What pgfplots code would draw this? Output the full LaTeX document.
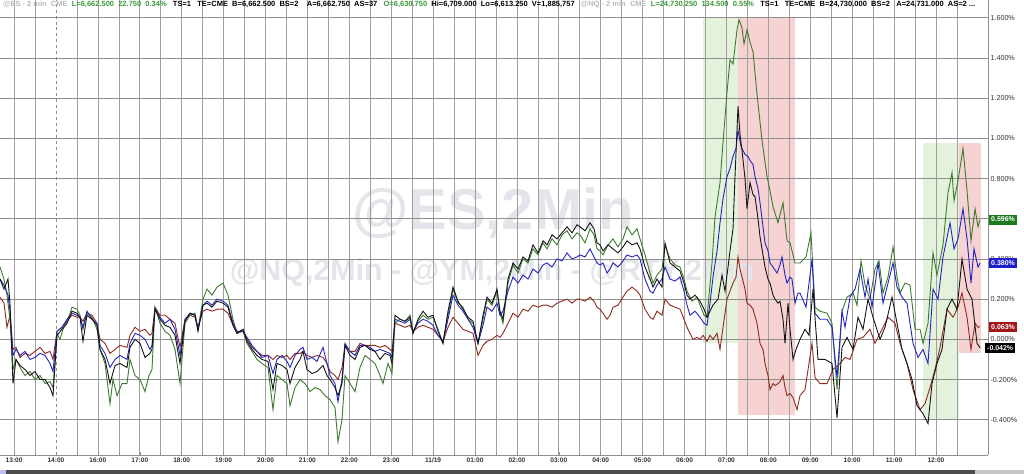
\documentclass[border=0pt]{standalone}
\usepackage{graphicx}
\usepackage{pgfplots}
\pgfplotsset{compat=1.18}
\usepackage{fontspec}
\setmainfont{Liberation Sans}
\definecolor{cES}{HTML}{141414}
\definecolor{cNQ}{HTML}{3C7A2E}
\definecolor{cYM}{HTML}{2323C0}
\definecolor{cRTY}{HTML}{8E2A1E}
\definecolor{shG}{HTML}{E4F2DC}
\definecolor{shR}{HTML}{F7D2D2}
\definecolor{gridc}{HTML}{8E8E8E}
\definecolor{wm}{HTML}{E4E5EA}
\definecolor{hdrgray}{HTML}{B6B8C0}
\definecolor{hdrgreen}{HTML}{3E9A3E}
\definecolor{tagG}{HTML}{1E7A1E}
\definecolor{tagB}{HTML}{1E1ECC}
\definecolor{tagR}{HTML}{A01818}
\definecolor{labc}{HTML}{333333}
\begin{document}
\begin{tikzpicture}[x=1bp,y=1bp]
\begin{axis}[at={(0,9.5)}, anchor=south west, scale only axis,
  width=988bp, height=455bp, set layers,
  xmin=0, xmax=988, ymin=-0.575, ymax=1.689,
  axis x line*=bottom, axis y line*=right,
  axis line style={gridc, line width=0.8bp},
  xtick={14.1,56,97.9,139.8,181.7,223.6,265.5,307.4,349.3,391.2,433.1,475,516.9,558.8,600.7,642.6,684.5,726.4,768.3,810.2,852.1,894,935.9},
  xticklabels={13:00,14:00,16:00,17:00,18:00,19:00,20:00,21:00,22:00,23:00,11/19,01:00,02:00,03:00,04:00,05:00,06:00,07:00,08:00,09:00,10:00,11:00,12:00},
  minor xtick={14.1,35.05,76.95,97.9,118.85,139.8,160.75,181.7,202.65,223.6,244.55,265.5,286.45,307.4,328.35,349.3,370.25,391.2,412.15,433.1,454.05,475,495.95,516.9,537.85,558.8,579.75,600.7,621.65,642.6,663.55,684.5,705.45,726.4,747.35,768.3,789.25,810.2,831.15,852.1,873.05,894,914.95,935.9,956.85},
  xminorgrids=true, xmajorgrids=false, ymajorgrids=true,
  extra x ticks={56}, extra x tick labels={},
  extra x tick style={grid=major, major grid style={gridc, dashed, line width=0.7bp}},
  ytick={-0.4,-0.2,0,0.2,0.4,0.6,0.8,1.0,1.2,1.4,1.6},
  yticklabels={-0.400\%,-0.200\%,0.000\%,0.200\%,0.400\%,0.600\%,0.800\%,1.000\%,1.200\%,1.400\%,1.600\%},
  major grid style={gridc, line width=0.7bp},
  minor grid style={gridc!85, line width=0.7bp},
  tick style={gridc, line width=0.6bp},
  major tick length=3bp, minor tick length=2bp,
  xticklabel style={font=\bfseries\fontsize{6.6}{7}\selectfont, text=labc, text height=5bp, text depth=1bp, yshift=1bp},
  yticklabel style={font=\fontsize{7.2}{8}\selectfont, text=labc, xshift=-1bp},
  clip=false,
]
% shaded zones
\addplot[on layer=axis background, fill=shG, draw=none] coordinates {(703,1.604)(738,1.604)(738,-0.017)(703,-0.017)} --cycle;
\addplot[on layer=axis background, fill=shR, draw=none] coordinates {(738,1.604)(795,1.604)(795,-0.376)(738,-0.376)} --cycle;
\addplot[on layer=axis background, fill=shG, draw=none] coordinates {(923,0.978)(959,0.978)(959,-0.40)(923,-0.40)} --cycle;
\addplot[on layer=axis background, fill=shR, draw=none] coordinates {(959,0.978)(981,0.978)(981,-0.067)(959,-0.067)} --cycle;
\begin{pgfonlayer}{axis background}
\node[anchor=base, text=wm, font=\bfseries\fontsize{58}{60}\selectfont, inner sep=0] at (axis cs:493,0.545) {@ES,2Min};
\node[anchor=base, text=wm, font=\bfseries\fontsize{30.5}{32}\selectfont, inner sep=0] at (axis cs:492,0.291) {@NQ,2Min - @YM,2Min - @RTY,2Min};
\end{pgfonlayer}
% RTY
\addplot[cRTY, line width=0.9bp] coordinates {
(0,0.21)(4,0.18)(7,0.06)(10,0.12)(13,-0.05)(16,-0.04)(20,-0.09)(25,-0.07)(30,-0.08)(35,-0.06)(40,-0.04)(45,-0.07)(50,-0.06)(53,-0.10)(57,0.04)(62,0.06)(67,0.09)(72,0.12)(77,0.11)(80,0.11)(83,0.09)(87,0.13)(92,0.12)(97,0.08)(100,0.00)(105,-0.02)(110,-0.07)(115,-0.05)(120,-0.03)(127,-0.04)(130,0.02)(135,0.06)(140,0.04)(145,0.05)(150,0.02)(152,0.03)(155,0.16)(160,0.12)(165,0.12)(170,0.10)(175,0.08)(180,-0.04)(185,0.10)(190,0.12)(195,0.11)(198,0.06)(203,0.14)(207,0.15)(212,0.14)(217,0.15)(223,0.15)(228,0.13)(233,0.07)(237,0.03)(243,0.05)(247,0.00)(252,-0.04)(257,-0.06)(262,-0.08)(268,-0.08)(273,-0.10)(277,-0.08)(282,-0.09)(287,-0.08)(290,-0.10)(295,-0.07)(300,-0.07)(303,-0.06)(307,-0.08)(312,-0.09)(317,-0.08)(323,-0.09)(327,-0.12)(330,-0.16)(335,-0.18)(338,-0.20)(342,-0.14)(345,-0.03)(350,-0.06)(355,-0.06)(360,-0.02)(365,-0.03)(370,-0.03)(375,-0.03)(380,-0.04)(385,-0.03)(390,-0.05)(392,-0.06)(395,0.08)(400,0.07)(405,0.06)(410,0.07)(413,0.04)(418,0.06)(423,0.07)(428,0.06)(433,0.05)(438,0.02)(443,-0.01)(448,0.06)(453,0.11)(458,0.08)(463,0.05)(468,0.04)(473,0.03)(478,-0.08)(483,-0.03)(487,-0.01)(492,0.00)(497,0.02)(500,0.01)(503,0.03)(508,0.08)(513,0.13)(518,0.11)(523,0.15)(528,0.14)(533,0.17)(538,0.16)(543,0.17)(547,0.17)(552,0.16)(557,0.18)(562,0.19)(567,0.20)(572,0.18)(577,0.20)(580,0.20)(585,0.19)(590,0.21)(594,0.19)(597,0.16)(600,0.15)(603,0.13)(607,0.10)(610,0.12)(613,0.16)(618,0.17)(623,0.21)(627,0.24)(632,0.26)(637,0.24)(640,0.22)(645,0.15)(650,0.11)(653,0.10)(657,0.14)(662,0.12)(665,0.20)(670,0.17)(675,0.16)(680,0.15)(684,0.10)(687,0.06)(690,0.03)(693,0.00)(697,0.01)(700,0.00)(703,0.02)(707,-0.01)(710,0.02)(713,0.00)(717,0.03)(720,-0.05)(723,0.06)(727,0.20)(730,0.24)(733,0.28)(736,0.31)(738,0.41)(740,0.35)(742,0.31)(745,0.25)(747,0.18)(750,0.17)(753,0.15)(757,0.08)(760,-0.02)(763,-0.05)(765,-0.12)(768,-0.18)(770,-0.25)(773,-0.22)(775,-0.23)(778,-0.22)(780,-0.21)(783,-0.18)(785,-0.24)(787,-0.28)(790,-0.27)(793,-0.29)(797,-0.35)(800,-0.28)(805,-0.25)(812,-0.02)(815,-0.19)(820,-0.22)(827,-0.22)(833,-0.15)(840,-0.12)(845,-0.09)(850,-0.10)(857,0.00)(863,0.01)(870,0.05)(875,-0.02)(882,0.05)(888,0.11)(895,0.08)(900,-0.02)(907,-0.12)(913,-0.25)(920,-0.35)(925,-0.32)(930,-0.24)(935,-0.15)(940,-0.04)(947,0.15)(953,0.11)(958,0.16)(962,0.23)(967,0.11)(971,-0.05)(975,0.08)(978,0.06)(980,0.063)
};
% NQ
\addplot[cNQ, line width=0.9bp] coordinates {
(0,0.36)(4,0.30)(7,0.22)(10,0.10)(13,-0.15)(16,-0.10)(20,-0.14)(25,-0.18)(30,-0.16)(35,-0.20)(40,-0.18)(45,-0.22)(50,-0.21)(53,-0.24)(57,0.03)(60,0.00)(63,0.05)(68,0.10)(72,0.16)(77,0.15)(80,0.12)(83,0.05)(87,0.13)(92,0.11)(97,0.05)(100,-0.05)(105,-0.12)(110,-0.32)(113,-0.20)(117,-0.28)(122,-0.22)(127,-0.22)(130,-0.10)(135,-0.18)(140,-0.20)(145,-0.26)(149,-0.18)(152,-0.15)(155,0.16)(160,0.08)(165,0.04)(170,0.02)(175,-0.05)(180,-0.22)(185,0.08)(190,0.12)(195,0.13)(198,0.05)(203,0.20)(207,0.25)(212,0.22)(217,0.26)(223,0.28)(228,0.22)(233,0.10)(237,0.03)(243,0.04)(247,-0.02)(252,-0.06)(257,-0.10)(262,-0.12)(268,-0.14)(273,-0.35)(277,-0.18)(282,-0.20)(287,-0.22)(290,-0.33)(295,-0.24)(300,-0.20)(305,-0.22)(310,-0.26)(315,-0.24)(320,-0.25)(325,-0.28)(330,-0.30)(335,-0.34)(338,-0.51)(342,-0.40)(345,-0.18)(350,-0.22)(355,-0.26)(360,-0.14)(365,-0.08)(370,-0.10)(375,-0.12)(380,-0.18)(383,-0.22)(388,-0.12)(392,-0.17)(395,0.08)(400,0.10)(405,0.09)(410,0.12)(413,0.03)(418,0.09)(423,0.12)(428,0.10)(433,0.11)(438,0.05)(443,-0.02)(448,0.12)(453,0.25)(458,0.18)(463,0.16)(468,0.10)(473,0.08)(478,-0.02)(483,0.10)(487,0.20)(492,0.17)(497,0.24)(500,0.13)(503,0.08)(508,0.28)(513,0.37)(518,0.33)(523,0.40)(528,0.38)(533,0.45)(538,0.42)(543,0.48)(547,0.45)(552,0.50)(557,0.47)(562,0.52)(567,0.54)(572,0.50)(577,0.53)(580,0.52)(585,0.48)(590,0.55)(594,0.52)(597,0.45)(600,0.44)(603,0.42)(608,0.47)(613,0.50)(618,0.46)(623,0.50)(627,0.56)(632,0.52)(637,0.55)(640,0.50)(645,0.42)(650,0.33)(653,0.28)(657,0.32)(662,0.35)(665,0.47)(670,0.40)(675,0.37)(680,0.36)(684,0.30)(687,0.24)(692,0.19)(697,0.21)(700,0.17)(704,0.12)(707,0.11)(712,0.38)(715,0.61)(720,0.78)(723,0.98)(727,1.23)(730,1.39)(733,1.37)(737,1.54)(739,1.59)(742,1.55)(744,1.47)(747,1.54)(750,1.48)(753,1.43)(757,1.22)(762,0.99)(767,0.81)(770,0.74)(773,0.66)(778,0.58)(783,0.68)(787,0.49)(790,0.48)(795,0.38)(800,0.38)(806,0.41)(811,0.53)(815,0.16)(820,0.14)(827,0.13)(832,0.08)(837,-0.25)(842,0.14)(847,0.21)(853,0.23)(857,0.17)(861,0.39)(865,0.27)(870,0.20)(875,0.35)(879,0.39)(883,0.23)(888,0.31)(893,0.46)(897,0.31)(900,0.23)(905,0.28)(910,0.27)(915,0.05)(920,0.05)(923,-0.02)(928,0.08)(933,0.43)(937,0.32)(943,0.47)(948,0.73)(952,0.83)(954,0.69)(958,0.79)(963,0.95)(967,0.74)(971,0.49)(975,0.65)(978,0.56)(980,0.596)
};
% YM
\addplot[cYM, line width=0.9bp] coordinates {
(0,0.30)(4,0.27)(8,0.22)(10,0.14)(13,-0.08)(16,-0.05)(20,-0.08)(25,-0.06)(30,-0.10)(35,-0.09)(40,-0.07)(45,-0.08)(50,-0.12)(53,-0.16)(57,0.04)(62,0.06)(67,0.10)(72,0.13)(77,0.12)(80,0.11)(83,0.06)(87,0.14)(92,0.10)(97,0.08)(100,-0.03)(105,-0.07)(110,-0.14)(115,-0.10)(120,-0.08)(127,-0.10)(130,-0.02)(135,0.03)(140,0.02)(145,0.00)(150,-0.05)(152,-0.03)(155,0.15)(160,0.11)(165,0.08)(170,0.10)(175,0.05)(180,-0.08)(185,0.10)(190,0.13)(195,0.12)(198,0.05)(203,0.17)(207,0.19)(212,0.17)(217,0.20)(223,0.19)(228,0.17)(233,0.08)(237,0.04)(243,0.04)(247,0.01)(252,-0.03)(257,-0.06)(262,-0.09)(268,-0.08)(273,-0.17)(277,-0.10)(282,-0.08)(287,-0.11)(290,-0.14)(295,-0.08)(300,-0.05)(303,-0.04)(307,-0.10)(312,-0.09)(317,-0.11)(323,-0.04)(327,-0.12)(330,-0.18)(335,-0.22)(338,-0.31)(342,-0.20)(345,-0.02)(350,-0.06)(355,-0.08)(360,-0.03)(365,-0.03)(370,-0.04)(375,-0.06)(380,-0.05)(385,-0.06)(390,-0.07)(392,-0.09)(395,0.10)(400,0.09)(405,0.08)(410,0.10)(413,0.04)(418,0.08)(423,0.10)(428,0.09)(433,0.07)(438,0.02)(443,-0.01)(448,0.10)(453,0.22)(458,0.17)(463,0.14)(468,0.10)(473,0.06)(478,-0.02)(483,0.07)(487,0.16)(492,0.14)(497,0.18)(500,0.12)(503,0.14)(508,0.24)(513,0.31)(518,0.28)(523,0.32)(528,0.30)(533,0.35)(538,0.33)(543,0.37)(547,0.38)(552,0.36)(557,0.40)(562,0.39)(567,0.43)(572,0.40)(577,0.41)(580,0.42)(585,0.41)(590,0.45)(594,0.41)(597,0.38)(600,0.37)(603,0.38)(607,0.33)(610,0.35)(613,0.38)(618,0.36)(623,0.39)(627,0.42)(632,0.41)(637,0.42)(640,0.40)(645,0.30)(650,0.24)(653,0.23)(657,0.27)(662,0.30)(665,0.36)(670,0.30)(675,0.29)(680,0.31)(684,0.24)(687,0.17)(690,0.12)(695,0.14)(700,0.11)(704,0.08)(707,0.07)(710,0.18)(713,0.31)(717,0.44)(720,0.58)(723,0.70)(727,0.81)(730,0.85)(733,0.91)(736,0.95)(738,1.04)(741,0.96)(743,0.94)(745,0.92)(748,0.91)(750,0.89)(753,0.87)(755,0.81)(758,0.75)(760,0.68)(763,0.56)(765,0.48)(768,0.44)(770,0.38)(773,0.36)(777,0.33)(780,0.37)(782,0.41)(785,0.32)(787,0.28)(790,0.31)(792,0.30)(795,0.18)(798,0.23)(800,0.23)(806,0.16)(812,0.40)(815,0.13)(820,0.10)(827,0.10)(832,0.06)(837,-0.19)(842,0.14)(845,0.06)(850,0.21)(855,0.25)(860,0.35)(865,0.21)(868,0.30)(872,0.16)(878,0.38)(883,0.18)(888,0.28)(893,0.38)(897,0.26)(902,0.21)(907,0.18)(913,-0.02)(918,-0.09)(923,-0.05)(928,-0.12)(933,0.25)(938,0.20)(943,0.41)(950,0.58)(954,0.45)(958,0.50)(963,0.65)(967,0.50)(971,0.28)(974,0.45)(978,0.36)(980,0.38)
};
% ES
\addplot[cES, line width=0.9bp] coordinates {
(0,0.30)(4,0.25)(8,0.30)(10,0.18)(13,-0.22)(16,-0.10)(20,-0.13)(25,-0.15)(30,-0.18)(35,-0.16)(40,-0.20)(45,-0.20)(50,-0.24)(53,-0.28)(57,0.02)(62,0.05)(67,0.08)(72,0.14)(77,0.13)(80,0.11)(83,-0.01)(87,0.12)(92,0.10)(97,0.07)(100,-0.05)(105,-0.10)(110,-0.22)(115,-0.13)(120,-0.12)(127,-0.14)(130,-0.04)(135,0.00)(140,-0.02)(145,-0.09)(150,-0.07)(152,-0.05)(155,0.15)(160,0.10)(165,0.07)(170,0.06)(175,0.02)(180,-0.12)(185,0.09)(190,0.13)(195,0.12)(198,0.04)(203,0.17)(207,0.18)(212,0.16)(217,0.19)(223,0.18)(228,0.16)(233,0.07)(237,0.03)(243,0.05)(247,-0.01)(252,-0.05)(257,-0.08)(262,-0.10)(268,-0.11)(273,-0.25)(277,-0.12)(282,-0.13)(287,-0.15)(290,-0.22)(295,-0.14)(300,-0.10)(303,-0.06)(307,-0.15)(312,-0.17)(317,-0.16)(323,-0.13)(327,-0.18)(330,-0.20)(335,-0.24)(338,-0.28)(342,-0.22)(345,-0.03)(350,-0.08)(355,-0.10)(360,-0.04)(365,-0.03)(370,-0.05)(375,-0.06)(380,-0.10)(385,-0.07)(390,-0.08)(392,-0.12)(395,0.12)(400,0.10)(405,0.09)(410,0.11)(413,0.03)(418,0.10)(423,0.14)(428,0.11)(433,0.12)(438,0.04)(443,-0.02)(448,0.14)(453,0.26)(458,0.19)(463,0.15)(468,0.11)(473,0.09)(478,-0.02)(483,0.12)(487,0.21)(492,0.18)(497,0.25)(500,0.14)(503,0.10)(508,0.30)(513,0.38)(518,0.35)(523,0.41)(528,0.39)(533,0.47)(538,0.43)(543,0.49)(547,0.47)(552,0.52)(557,0.50)(562,0.53)(567,0.56)(572,0.53)(577,0.57)(580,0.56)(585,0.54)(590,0.58)(594,0.55)(597,0.48)(600,0.47)(603,0.44)(608,0.47)(613,0.45)(618,0.43)(623,0.46)(627,0.49)(632,0.47)(637,0.48)(640,0.45)(645,0.36)(650,0.30)(653,0.26)(657,0.30)(662,0.26)(665,0.48)(670,0.38)(675,0.36)(680,0.34)(684,0.28)(687,0.22)(690,0.20)(695,0.22)(700,0.19)(704,0.15)(707,0.11)(710,0.14)(713,0.17)(718,0.20)(722,0.32)(725,0.24)(730,0.44)(733,0.55)(735,0.81)(738,1.16)(740,1.02)(742,0.94)(745,0.80)(747,0.65)(750,0.78)(753,0.72)(755,0.71)(758,0.60)(760,0.51)(763,0.42)(765,0.36)(768,0.30)(770,0.28)(773,0.22)(775,0.20)(778,0.18)(780,0.19)(783,0.10)(785,-0.02)(788,0.18)(790,0.05)(793,-0.10)(796,-0.05)(800,0.00)(805,0.05)(809,0.02)(813,0.25)(818,-0.10)(825,-0.10)(832,-0.12)(837,-0.39)(842,-0.04)(847,0.01)(853,-0.05)(858,0.11)(863,0.05)(868,0.20)(873,0.11)(880,0.00)(885,0.06)(892,0.21)(897,0.08)(902,-0.05)(907,-0.12)(912,-0.20)(917,-0.33)(923,-0.37)(928,-0.42)(932,-0.22)(937,-0.12)(942,-0.05)(947,0.15)(952,0.20)(957,0.15)(962,0.40)(967,0.25)(972,0.20)(974,0.11)(977,-0.02)(980,-0.042)
};
\coordinate (tg) at (axis cs:988,0.596);
\coordinate (tb) at (axis cs:988,0.380);
\coordinate (tr) at (axis cs:988,0.063);
\coordinate (tk) at (axis cs:988,-0.042);
\end{axis}
\pgfresetboundingbox
\path[use as bounding box] (0,0) rectangle (1024,474);
% value tags
\tikzset{tag/.style={anchor=west, text=white, font=\bfseries\fontsize{7}{8}\selectfont, inner xsep=2bp, inner ysep=1.5bp, minimum height=10bp}}
\node[tag, fill=tagG] at ([xshift=1bp]tg) {0.596\%};
\node[tag, fill=tagB] at ([xshift=1bp]tb) {0.380\%};
\node[tag, fill=tagR] at ([xshift=1bp]tr) {0.063\%};
\node[tag, fill=black, anchor=west] at ([xshift=-3bp]tk) {-0.042\%};
% header line
\node[anchor=north west, inner sep=0] at (3,473) {\resizebox{972bp}{!}{\bfseries\fontsize{7}{8}\selectfont
\textcolor{hdrgray}{@ES - 2 min\ \ CME}\ \ \textcolor{hdrgreen}{L=6,662.500\ \ 22.750\ \ 0.34\%}\ \ \ TS=1\ \ \ TE=CME\ \ B=6,662.500\ \ BS=2\ \ \ \ A=6,662.750\ \ AS=37\ \ \ \textcolor{hdrgreen}{O=6,630.750}\ \ Hi=6,709.000\ \ Lo=6,613.250\ \ V=1,885,757\ \ \ \textcolor{hdrgray}{@NQ - 2 min\ \ CME}\ \ \textcolor{hdrgreen}{L=24,730.250\ \ 134.500\ \ 0.55\%}\ \ \ TS=1\ \ \ TE=CME\ \ B=24,730.000\ \ BS=2\ \ \ A=24,731.000\ \ AS=2 ...}};
% scrollbar
\fill[fill=black!70] (6,0) rectangle (975,4);
\fill[fill=gray!45] (975,0) rectangle (1024,4);
\fill[fill=gray!30!blue!30] (0,0) rectangle (6,4);
\end{tikzpicture}
\end{document}
